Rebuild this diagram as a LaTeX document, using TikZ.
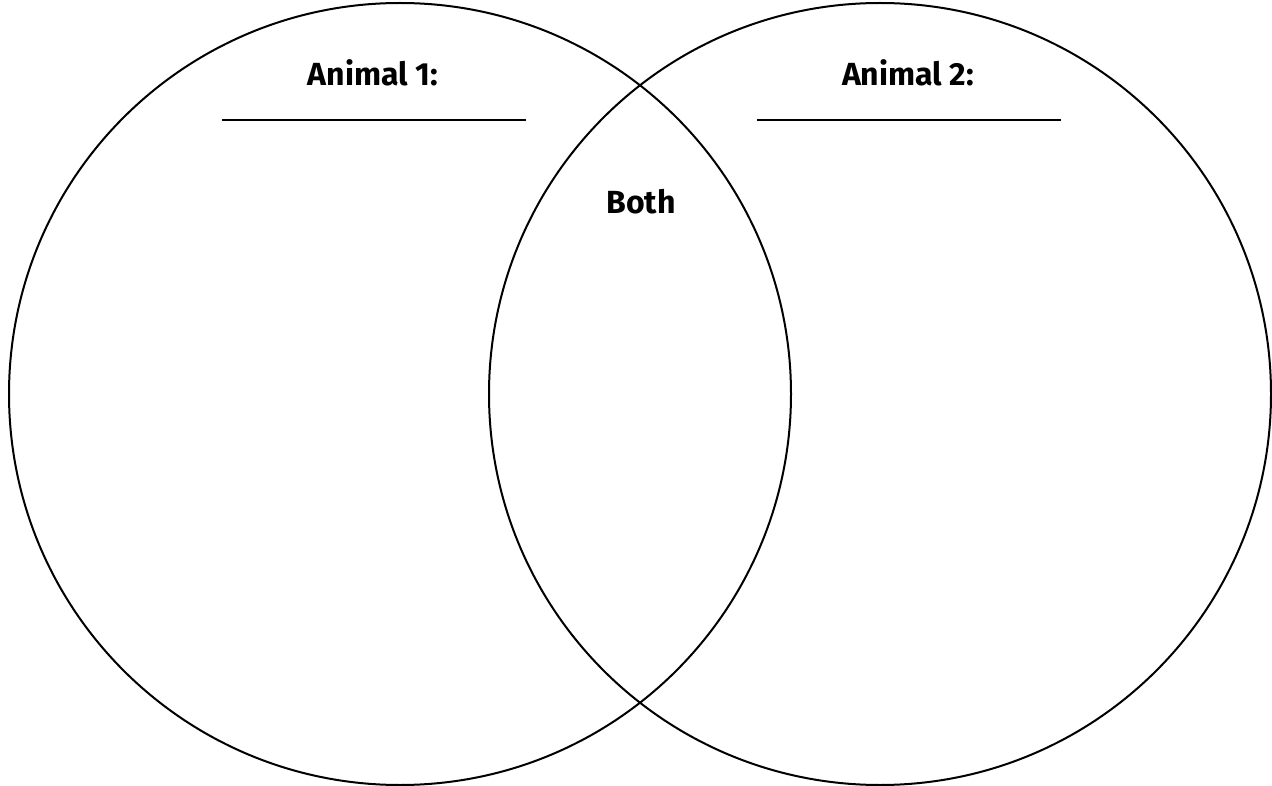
\documentclass[tikz,border=0pt]{standalone}
\usepackage{fontspec}
\setsansfont{Fira Sans}
\usetikzlibrary{positioning}

\begin{document}
\begin{tikzpicture}[x=1pt,y=-1pt,
  ring/.style={draw,circle,line width=2pt,minimum size=782pt,inner sep=0pt},
  title/.style={font=\sffamily\bfseries\fontsize{32}{38}\selectfont},
  blank/.style={line width=2.5pt}]
  \useasboundingbox (0,0) rectangle (1272,786);
  \node[ring] (set1) at (400,394) {};
  \node[ring] (set2) at (880,394) {};
  \node[title] (name1) at (373,73) {Animal 1:};
  \node[title] (name2) at (908,73) {Animal 2:};
  \node[title] (both) at (641,202) {Both};
  \coordinate (l1a) at (222,120);
  \coordinate (l1b) at (526,120);
  \coordinate (l2a) at (757,120);
  \coordinate (l2b) at (1061,120);
  \draw[blank] (l1a) -- (l1b);
  \draw[blank] (l2a) -- (l2b);
\end{tikzpicture}
\end{document}
